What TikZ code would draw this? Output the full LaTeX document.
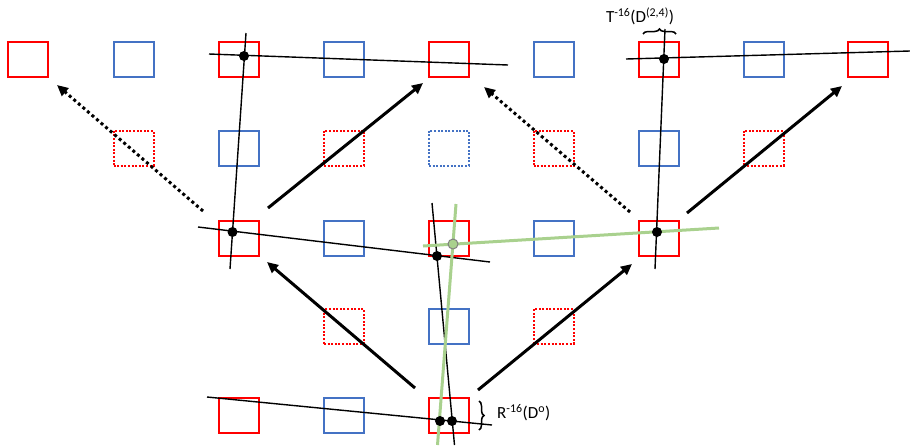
\documentclass[tikz,border=0pt]{standalone}
\usepackage{fontspec}
\setmainfont{Carlito}
\usetikzlibrary{arrows.meta,decorations.pathreplacing}
\definecolor{sqred}{HTML}{FF0000}
\definecolor{sqblue}{HTML}{4472C4}
\definecolor{lgreen}{HTML}{A9D18E}
\tikzset{
  sq/.style={draw, line width=2pt, minimum width=40pt, minimum height=35pt, inner sep=0pt},
  rsq/.style={sq, draw=sqred},
  bsq/.style={sq, draw=sqblue},
  rdot/.style={rsq, dash pattern=on 2pt off 1.6pt},
  bdot/.style={bsq, dash pattern=on 2pt off 1.6pt},
  thinl/.style={line width=1.4pt, black},
  greenl/.style={line width=3pt, lgreen},
  bigarrow/.style={line width=3pt, -{Triangle[length=11pt,width=10pt]}},
  dotarrow/.style={bigarrow, dash pattern=on 3pt off 3pt},
  pt/.style={circle, fill=black, inner sep=0pt, minimum size=10pt},
  gpt/.style={circle, fill=lgreen, draw=gray, line width=1pt, inner sep=0pt, minimum size=10pt},
  lbl/.style={font=\fontsize{17}{20}\selectfont, inner sep=0pt},
  brc/.style={decorate, decoration={brace, amplitude=5pt}, line width=1.5pt}
}
\begin{document}
\begin{tikzpicture}[x=1pt,y=-1pt]
\useasboundingbox (0,0) rectangle (910,445);
% row 1
\node[rsq] (a0) at (28,59.5) {};
\node[bsq] (a1) at (133.5,59.5) {};
\node[rsq] (a2) at (238.5,59.5) {};
\node[bsq] (a3) at (344,59.5) {};
\node[rsq] (a4) at (449,59.5) {};
\node[bsq] (a5) at (553.5,59.5) {};
\node[rsq] (a6) at (659,59.5) {};
\node[bsq] (a7) at (763.5,59.5) {};
\node[rsq] (a8) at (868,59.5) {};
% row 2
\node[rdot] (b1) at (133.5,148) {};
\node[bsq] (b2) at (238.5,148) {};
\node[rdot] (b3) at (344,148) {};
\node[bdot] (b4) at (449,148) {};
\node[rdot] (b5) at (553.5,148) {};
\node[bsq] (b6) at (659,148) {};
\node[rdot] (b7) at (763.5,148) {};
% row 3
\node[rsq] (c2) at (238.5,238) {};
\node[bsq] (c3) at (344,238) {};
\node[rsq] (c4) at (449,238) {};
\node[bsq] (c5) at (553.5,238) {};
\node[rsq] (c6) at (659,238) {};
% row 4
\node[rdot] (d3) at (344,326.5) {};
\node[bsq] (d4) at (449,326.5) {};
\node[rdot] (d5) at (553.5,326.5) {};
% row 5
\node[rsq] (e2) at (238.5,415.5) {};
\node[bsq] (e3) at (344,415.5) {};
\node[rsq] (e4) at (449,415.5) {};

% line end points
\coordinate (L1a) at (209,54);   \coordinate (L1b) at (508,65);
\coordinate (V1a) at (246,33);   \coordinate (V1b) at (230,269);
\coordinate (L2a) at (198,227);  \coordinate (L2b) at (490,262);
\coordinate (V2a) at (432,203);  \coordinate (V2b) at (454.5,445);
\coordinate (L3a) at (207,397);  \coordinate (L3b) at (492,425);
\coordinate (L4a) at (626,59);   \coordinate (L4b) at (910,51);
\coordinate (V4a) at (665,29);   \coordinate (V4b) at (655,269);
\coordinate (G1a) at (423,246);  \coordinate (G1b) at (719,228);
\coordinate (G2a) at (456,204);  \coordinate (G2b) at (437.5,445);

\draw[thinl] (L1a) -- (L1b);
\draw[thinl] (V1a) -- (V1b);
\draw[thinl] (L2a) -- (L2b);
\draw[thinl] (V2a) -- (V2b);
\draw[thinl] (L3a) -- (L3b);
\draw[thinl] (L4a) -- (L4b);
\draw[thinl] (V4a) -- (V4b);
\draw[greenl] (G1a) -- (G1b);
\draw[greenl] (G2a) -- (G2b);

% dots
\node[pt] (p1) at (244,56) {};
\node[pt] (p2) at (232.5,232) {};
\node[pt] (p3) at (437,256) {};
\node[pt] (p4) at (440,421) {};
\node[pt] (p5) at (452,421) {};
\node[pt] (p6) at (664,59) {};
\node[pt] (p7) at (657,232) {};
\node[gpt] (g1) at (453,244) {};

% arrows
\coordinate (A1s) at (203,211); \coordinate (A1e) at (57,85);
\coordinate (A2s) at (268,208); \coordinate (A2e) at (423,83);
\coordinate (A3s) at (415,388); \coordinate (A3e) at (267,262);
\coordinate (A4s) at (478,390); \coordinate (A4e) at (632,264);
\coordinate (A5s) at (630,212); \coordinate (A5e) at (484,87);
\coordinate (A6s) at (687,213); \coordinate (A6e) at (842,86);
\draw[dotarrow] (A1s) -- (A1e);
\draw[bigarrow] (A2s) -- (A2e);
\draw[bigarrow] (A3s) -- (A3e);
\draw[bigarrow] (A4s) -- (A4e);
\draw[dotarrow] (A5s) -- (A5e);
\draw[bigarrow] (A6s) -- (A6e);

% braces and labels
\coordinate (B1a) at (643,34); \coordinate (B1b) at (676,34);
\draw[brc] (B1a) -- (B1b);
\node[lbl] (t1) at (640,16) {T\textsuperscript{-16}(D\textsuperscript{(2,4)})};
\coordinate (B2a) at (479,401); \coordinate (B2b) at (479,430);
\draw[brc] (B2a) -- (B2b);
\node[lbl, anchor=west] (t2) at (497,413) {R\textsuperscript{-16}(D\textsuperscript{o})};
\end{tikzpicture}
\end{document}
